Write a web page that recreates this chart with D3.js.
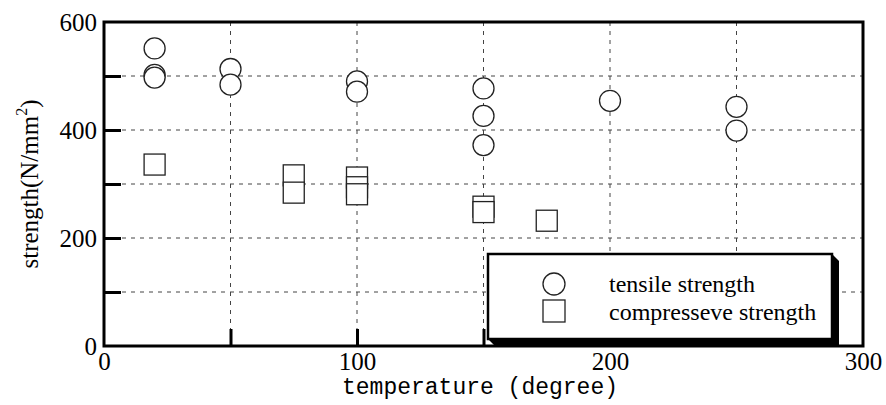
<!DOCTYPE html>
<html>
<head>
<meta charset="utf-8">
<script src="https://cdn.jsdelivr.net/npm/d3@7"></script>
<style>
  html, body { margin: 0; padding: 0; background: #fff; }
  svg { display: block; }
</style>
</head>
<body>
<svg id="chart" width="886" height="405"></svg>
<script>
// ---- data ----
const tensileTemp = [20, 20, 20, 50, 50, 100, 100, 150, 150, 150, 200, 250, 250];
const tensileValue = [551, 502, 497, 513, 484, 490, 471, 477, 426, 372, 454, 443, 399];
const compTemp = [20, 75, 75, 100, 100, 100, 150, 150, 175];
const compValue = [336, 316, 284, 312, 294, 281, 258, 248, 232];
const xTickLabels = [0, 100, 200, 300];
const yTickLabels = [0, 200, 400, 600];
const xGrid = [50, 100, 150, 200, 250];
const yGrid = [100, 200, 300, 400, 500];
const xTicks = [50, 100, 150, 200, 250];
const yTicks = [100, 200, 300, 400, 500];
const seriesNames = ["tensile strength", "compresseve strength"];

// ---- layout ----
const W = 886, H = 405;
const m = { left: 104, right: 23, top: 22, bottom: 59 };
const svg = d3.select("#chart");
const x = d3.scaleLinear().domain([0, 300]).range([m.left, W - m.right]);
const y = d3.scaleLinear().domain([0, 600]).range([H - m.bottom, m.top]);
const serif = "'Liberation Serif', 'Times New Roman', serif";
const mono = "'Liberation Mono', 'Courier New', monospace";

// grid
const grid = svg.append("g").attr("stroke", "#444").attr("stroke-width", 1).attr("stroke-dasharray", "4,5");
grid.selectAll("line.v").data(xGrid).join("line")
  .attr("x1", d => x(d)).attr("x2", d => x(d))
  .attr("y1", y(600)).attr("y2", y(0));
grid.selectAll("line.h").data(yGrid).join("line")
  .attr("y1", d => y(d)).attr("y2", d => y(d))
  .attr("x1", x(0)).attr("x2", x(300));

// inward ticks via d3 axes
const tickLen = 17;
const yTickAxis = svg.append("g").attr("transform", `translate(${x(0)},0)`)
  .call(d3.axisLeft(y).tickValues(yTicks).tickSize(-tickLen).tickFormat(""));
const xTickAxis = svg.append("g").attr("transform", `translate(0,${y(0)})`)
  .call(d3.axisBottom(x).tickValues(xTicks).tickSize(-tickLen).tickFormat(""));
[yTickAxis, xTickAxis].forEach(g => {
  g.select(".domain").remove();
  g.selectAll(".tick line").attr("stroke", "#000").attr("stroke-width", 3);
});

// tick labels via axes
const yLab = svg.append("g").attr("transform", `translate(${x(0)},0)`)
  .call(d3.axisLeft(y).tickValues(yTickLabels).tickSize(0).tickPadding(7).tickFormat(d3.format("d")));
const xLab = svg.append("g").attr("transform", `translate(0,${y(0)})`)
  .call(d3.axisBottom(x).tickValues(xTickLabels).tickSize(0).tickPadding(4).tickFormat(d3.format("d")));
[yLab, xLab].forEach(g => {
  g.select(".domain").remove();
  g.attr("font-family", null).attr("font-size", null);
  g.selectAll("text").style("font-family", serif).style("font-size", "25px").style("fill", "#000");
});
xLab.selectAll("text").attr("dy", "0.78em");

// frame
svg.append("rect")
  .attr("x", x(0)).attr("y", y(600))
  .attr("width", x(300) - x(0)).attr("height", y(0) - y(600))
  .attr("fill", "none").attr("stroke", "#000").attr("stroke-width", 3);

// markers
const r = 10.5, s = 21;
const tensile = tensileTemp.map((t, i) => ({ t, v: tensileValue[i] }));
const comp = compTemp.map((t, i) => ({ t, v: compValue[i] }));
svg.append("g").selectAll("circle").data(tensile).join("circle")
  .attr("cx", d => x(d.t)).attr("cy", d => y(d.v)).attr("r", r)
  .attr("fill", "#fff").attr("stroke", "#222").attr("stroke-width", 1.3);
svg.append("g").selectAll("rect").data(comp).join("rect")
  .attr("x", d => x(d.t) - s / 2).attr("y", d => y(d.v) - s / 2)
  .attr("width", s).attr("height", s)
  .attr("fill", "#fff").attr("stroke", "#222").attr("stroke-width", 1.3);

// legend
const L = { x0: 488, y0: 254, x1: 832, y1: 339, sh: 7 };
svg.append("polygon")
  .attr("points", [
    [L.x1, L.y0], [L.x1 + L.sh, L.y0 + L.sh], [L.x1 + L.sh, L.y1 + L.sh],
    [L.x0 + L.sh, L.y1 + L.sh], [L.x0, L.y1]
  ].map(p => p.join(",")).join(" "))
  .attr("fill", "#000");
svg.append("rect")
  .attr("x", L.x0).attr("y", L.y0).attr("width", L.x1 - L.x0).attr("height", L.y1 - L.y0)
  .attr("fill", "#fff").attr("stroke", "#000").attr("stroke-width", 2.5);
const lg = svg.append("g");
lg.append("circle").attr("cx", 554).attr("cy", 284).attr("r", 11)
  .attr("fill", "#fff").attr("stroke", "#222").attr("stroke-width", 1.3);
lg.append("rect").attr("x", 554 - 11).attr("y", 311 - 11).attr("width", 22).attr("height", 22)
  .attr("fill", "#fff").attr("stroke", "#222").attr("stroke-width", 1.3);
lg.selectAll("text").data(seriesNames).join("text")
  .attr("x", 609).attr("y", (d, i) => 292 + i * 28)
  .style("font-family", serif).style("font-size", "24px").style("fill", "#000")
  .text(d => d);

// axis titles
svg.append("text")
  .attr("x", 480).attr("y", 394)
  .attr("text-anchor", "middle")
  .style("font-family", mono).style("font-size", "23px").style("fill", "#000")
  .text("temperature (degree)");
const yt = svg.append("text")
  .attr("transform", `translate(38,${(y(0) + y(600)) / 2}) rotate(-90)`)
  .attr("text-anchor", "middle")
  .style("font-family", serif).style("font-size", "25px").style("fill", "#000");
yt.append("tspan").text("strength(N/mm");
yt.append("tspan").style("font-size", "16px").attr("dy", -11).text("2");
yt.append("tspan").attr("dy", 11).text(")");
</script>
</body>
</html>
